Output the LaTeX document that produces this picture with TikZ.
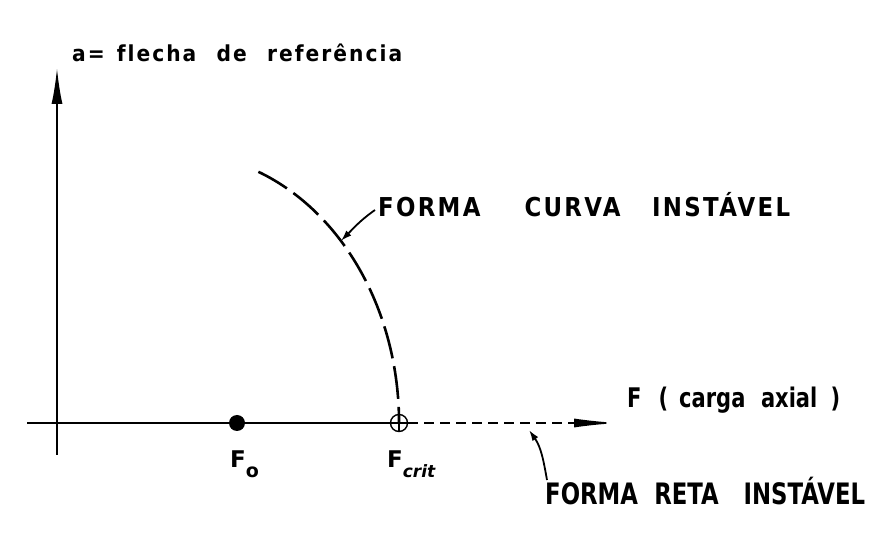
\documentclass[tikz,border=0pt]{standalone}
\usepackage{fontspec}
\setmainfont{DejaVu Sans}
\newfontfamily\spacedfont[LetterSpace=10,Ligatures=CommonOff]{DejaVu Sans}
\usepackage{graphicx}
\usetikzlibrary{arrows.meta}
\newcommand{\fitw}[2]{\resizebox{#1}{\height}{#2}}
\begin{document}
\begin{tikzpicture}[x=1pt,y=1pt,
  lbl/.style={inner sep=0pt, anchor=base west, font=\bfseries},
  axisline/.style={line width=2pt},
  dotnode/.style={circle, fill=black, inner sep=0pt, minimum size=16pt},
  critnode/.style={circle, draw, line width=1.4pt, inner sep=0pt, minimum size=17pt},
  lead/.style={line width=1.8pt, -{Latex[length=11pt,width=7pt]}},
  curvedash/.style={line width=2.6pt, dash pattern=on 33pt off 8pt},
  xdash/.style={line width=1.6pt, dash pattern=on 10pt off 6pt}]
\useasboundingbox[fill=white] (0,0) rectangle (892,538);

% coordinates
\coordinate (ybot) at (57,83);
\coordinate (ytip) at (57,470);
\coordinate (xstart) at (27,115);
\coordinate (xtip) at (618,115);
\coordinate (ctop) at (258.4,366.2);
\coordinate (cpt) at (340.9,297.1);
\coordinate (rpt) at (529,108);

% points on the axis
\node[critnode] (fcrit) at (399,115) {};

% axes
\draw[axisline, -{Latex[length=36pt,width=11pt]}] (ybot) -- (ytip);
\draw[axisline] (xstart) -- (fcrit.east);
\draw[xdash, -{Latex[length=44pt,width=9pt]}] (fcrit.east) -- (xtip);
\draw[line width=1.4pt] (fcrit.north) -- (fcrit.south);
\node[dotnode] (fo) at (237,115) {};

% unstable curved form
\draw[curvedash] (ctop) arc[start angle=68.5, end angle=0, x radius=222, y radius=270];

% labels
\node[lbl] (toplbl) at (72,476) {\fitw{330pt}{\spacedfont\fontsize{22}{22}\selectfont a=\hspace{13pt}flecha\hspace{22pt}de\hspace{22pt}referência}};
\node[lbl] (curvelbl) at (378,321) {\fitw{412pt}{\spacedfont\fontsize{26}{26}\selectfont FORMA\hspace{50pt}CURVA\hspace{36pt}INSTÁVEL}};
\node[lbl] (axlbl) at (627,130) {\fitw{213pt}{\fontsize{27}{27}\selectfont F\hspace{22pt}(\hspace{14pt}carga\hspace{20pt}axial\hspace{17pt})}};
\node[lbl] (retalbl) at (545,33) {\fitw{320pt}{\fontsize{29.5}{29.5}\selectfont FORMA\hspace{21pt}RETA\hspace{32pt}INSTÁVEL}};
\node[lbl] (folbl) at (230,70) {\fontsize{23}{23}\selectfont F\raisebox{-10pt}{\fontsize{19}{19}\selectfont o}};
\node[lbl] (fcritlbl) at (387,70) {\fontsize{23}{23}\selectfont F\raisebox{-10pt}{\fontsize{17}{17}\selectfont\itshape crit}};

% leaders
\draw[lead] ([xshift=-3pt,yshift=7pt]curvelbl.base west) to[out=215,in=45] (cpt);
\draw[lead] ([xshift=2pt,yshift=25pt]retalbl.base west) to[out=100,in=-55] (rpt);
\end{tikzpicture}
\end{document}
